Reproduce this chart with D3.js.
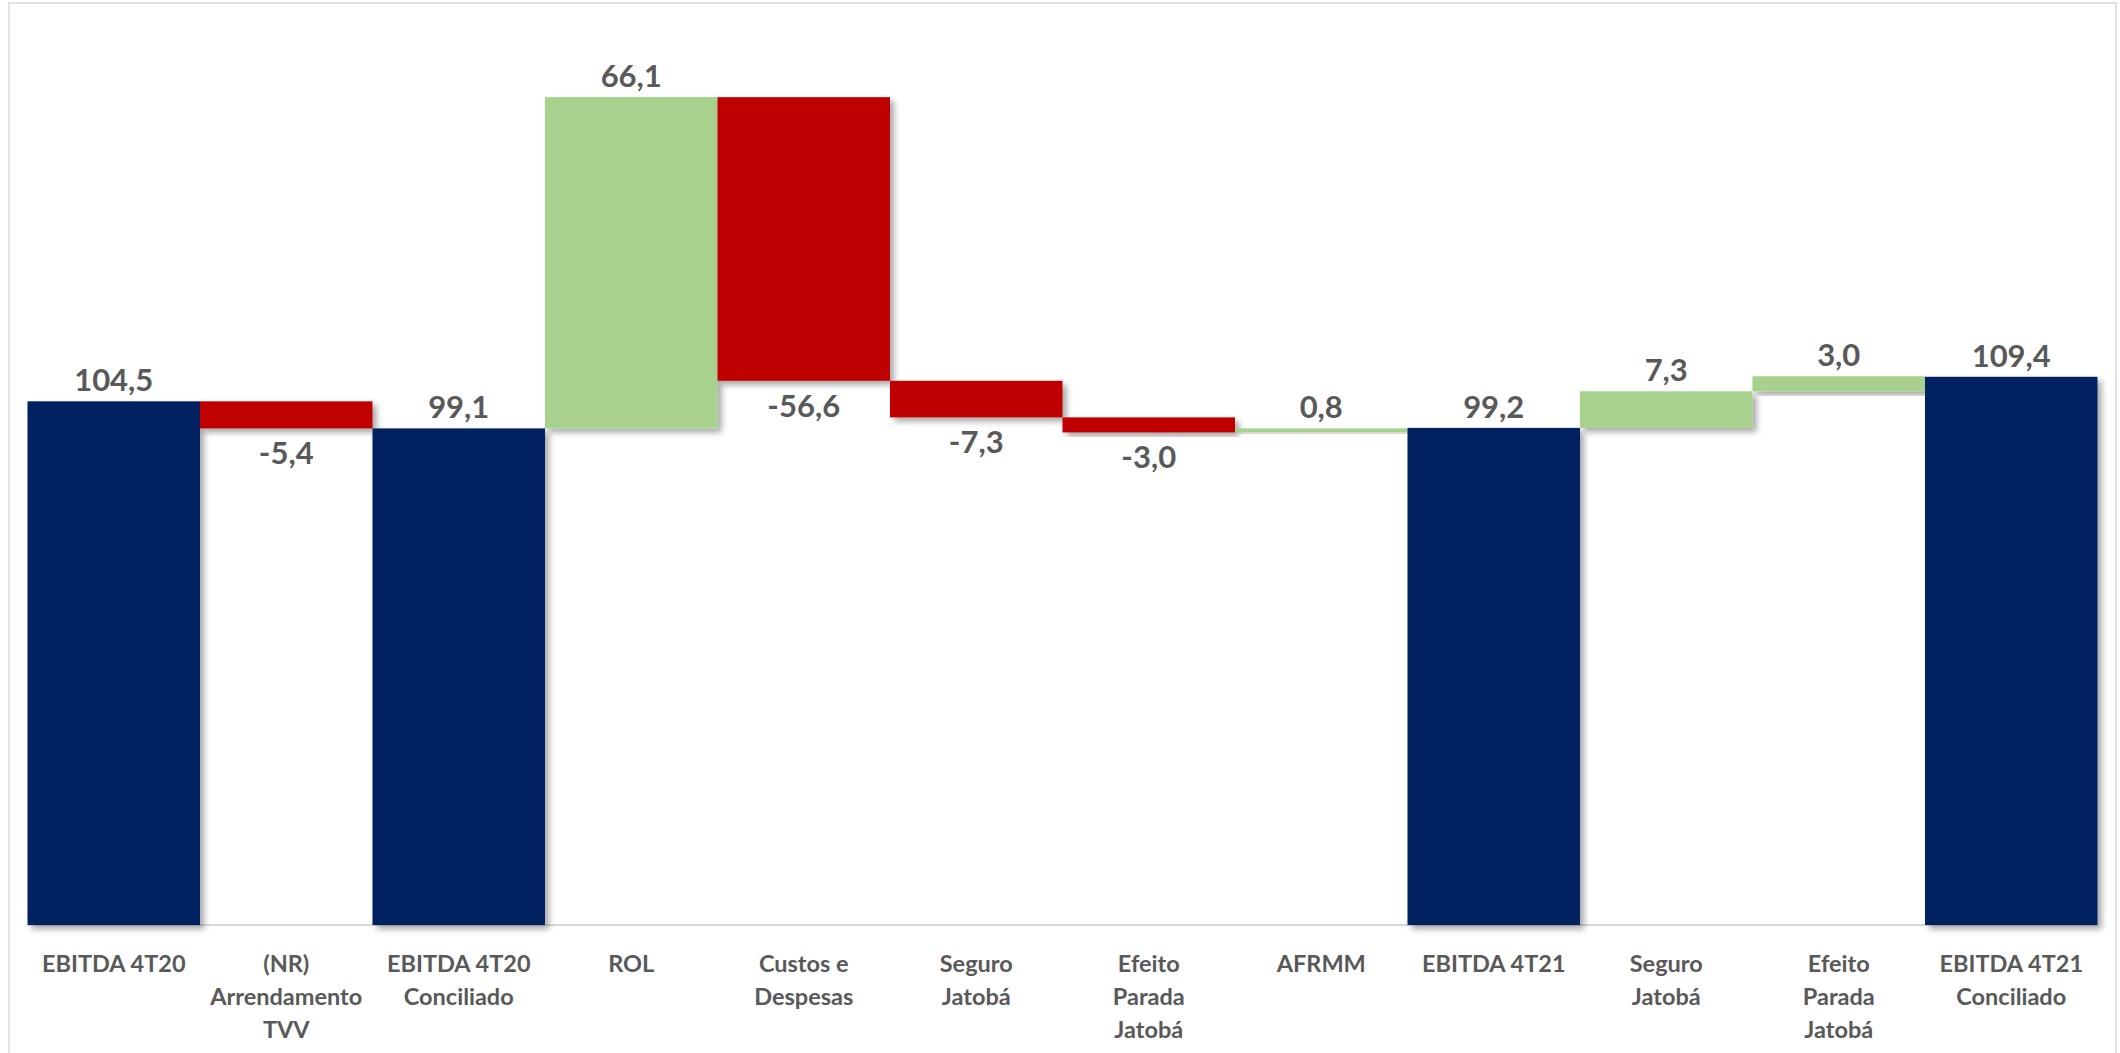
<!DOCTYPE html>
<html>
<head>
<meta charset="utf-8">
<script src="https://cdn.jsdelivr.net/npm/d3@7"></script>
<style>
  body { margin: 0; background: #fff; }
  svg { display: block; }
</style>
</head>
<body>
<svg width="2120" height="1053"></svg>
<script>

var categories = [
  ["EBITDA 4T20"],
  ["(NR)", "Arrendamento", "TVV"],
  ["EBITDA 4T20", "Conciliado"],
  ["ROL"],
  ["Custos e", "Despesas"],
  ["Seguro", "Jatobá"],
  ["Efeito", "Parada", "Jatobá"],
  ["AFRMM"],
  ["EBITDA 4T21"],
  ["Seguro", "Jatobá"],
  ["Efeito", "Parada", "Jatobá"],
  ["EBITDA 4T21", "Conciliado"]
]
var values = [104.5, -5.4, 99.1, 66.1, -56.6, -7.3, -3.0, 0.8, 99.2, 7.3, 3.0, 109.4]
var kinds = ["total", "delta", "total", "delta", "delta", "delta", "delta", "delta", "total", "delta", "delta", "total"]

var colors = { total: "#002060", up: "#A9D18E", down: "#C00000" }

var svg = d3.select("svg")

// frame
svg.append("rect")
  .attr("x", 9).attr("y", 3)
  .attr("width", 2107).attr("height", 1200)
  .style("fill", "none")
  .style("stroke", "#E2E2E2")
  .style("stroke-width", 2)

// drop shadow
var defs = svg.append("defs")
defs.append("filter")
    .attr("id", "shadow")
    .attr("x", "-10%").attr("y", "-10%")
    .attr("width", "130%").attr("height", "140%")
  .append("feDropShadow")
    .attr("dx", 4).attr("dy", 4)
    .attr("stdDeviation", 3)
    .attr("flood-color", "#000")
    .attr("flood-opacity", 0.35)

var x = d3.scaleBand().domain(d3.range(values.length)).range([27.5, 2097.5]).padding(0)
var y = d3.scaleLinear().domain([0, 180]).range([925, 23])

// build waterfall steps
var steps = []
var running = 0
values.forEach(function(v, i){
  var s
  if (kinds[i] == "total") {
    s = {i: i, v: v, lo: 0, hi: v, kind: "total"}
    running = v
  } else {
    var start = running
    running = running + v
    s = {i: i, v: v, lo: Math.min(start, running), hi: Math.max(start, running), kind: v >= 0 ? "up" : "down"}
  }
  steps.push(s)
})

// axis line
svg.append("line")
  .attr("x1", x.range()[0]).attr("x2", x.range()[1])
  .attr("y1", y(0)).attr("y2", y(0))
  .style("stroke", "#D9D9D9")
  .style("stroke-width", 2)

// bars
svg.selectAll(".bar").data(steps).enter().append("rect")
  .attr("class", "bar")
  .attr("x", function(d){ return x(d.i); })
  .attr("width", x.bandwidth())
  .attr("y", function(d){ return y(d.hi); })
  .attr("height", function(d){ return Math.max(3, y(d.lo) - y(d.hi)); })
  .style("fill", function(d){ return colors[d.kind]; })
  .attr("filter", "url(#shadow)")

// value labels
var fmt = function(v){ return d3.format(".1f")(v).replace(".", ",").replace("−", "-"); }

svg.selectAll(".val").data(steps).enter().append("text")
  .attr("class", "val")
  .attr("x", function(d){ return x(d.i) + x.bandwidth() / 2; })
  .attr("y", function(d){ return d.kind == "down" ? y(d.lo) + 36 : y(d.hi) - 10; })
  .attr("text-anchor", "middle")
  .style("font-family", "Lato, 'Liberation Sans', sans-serif")
  .style("font-weight", "bold")
  .style("font-size", "31px")
  .style("fill", "#595959")
  .text(function(d){ return fmt(d.v); })

// category labels
var cat = svg.selectAll(".cat").data(categories).enter().append("text")
  .attr("class", "cat")
  .attr("text-anchor", "middle")
  .style("font-family", "Lato, 'Liberation Sans', sans-serif")
  .style("font-weight", "bold")
  .style("font-size", "23.5px")
  .style("fill", "#595959")

cat.selectAll("tspan").data(function(d, i){ return d.map(function(t){ return {t: t, i: i}; }); })
  .enter().append("tspan")
    .attr("x", function(d){ return x(d.i) + x.bandwidth() / 2; })
    .attr("y", function(d, j){ return 972 + j * 33; })
    .text(function(d){ return d.t; })

</script>
</body>
</html>
